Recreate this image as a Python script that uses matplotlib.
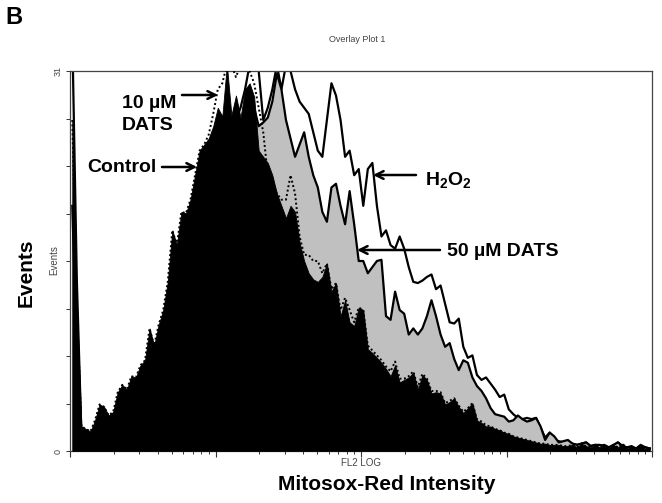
import numpy as np
import matplotlib
matplotlib.use("Agg")
import matplotlib.pyplot as plt
from matplotlib.ticker import FixedLocator, NullFormatter, LogLocator

plt.rcParams['font.family'] = ['Liberation Sans', 'DejaVu Sans']
plt.rcParams['mathtext.fontset'] = 'custom'
plt.rcParams['mathtext.rm'] = 'Liberation Sans:bold'
plt.rcParams['mathtext.bf'] = 'Liberation Sans:bold'

# ---- data: 128 histogram channels (of a 256-channel, 4-decade log scale) ----
channel = np.arange(128) * 2 + 1

control = [27, 12, 2.0, 1.8, 1.6, 2.5, 3.8, 3.6, 2.9, 3.2,
           4.8, 5.4, 5.0, 6.1, 6.0, 7.0, 7.4, 10.0, 8.6, 10.3,
           11.5, 13.8, 18.0, 16.8, 19.5, 19.4, 20.5, 22.5, 24.5, 25.0,
           25.5, 26.5, 28.0, 27.3, 31.5, 27.4, 29.0, 27.2, 29.5, 30.0,
           28.9, 24.5, 24.0, 23.5, 22.5, 21.0, 20.0, 19.0, 20.0, 19.5,
           17.0, 15.5, 14.5, 14.0, 13.8, 14.2, 15.3, 13.0, 13.7, 11.0,
           12.3, 10.5, 10.2, 11.7, 11.5, 8.3, 8.0, 7.6, 7.2, 6.7,
           6.1, 7.0, 5.6, 5.8, 6.0, 6.4, 5.0, 6.2, 5.8, 4.7,
           4.8, 4.7, 3.8, 4.0, 4.3, 3.6, 3.1, 3.5, 3.9, 2.5,
           2.3, 2.0, 2.0, 1.8, 1.7, 1.5, 1.4, 1.2, 1.1, 1.0,
           0.9, 0.8, 0.7, 0.6, 0.6, 0.5, 0.5, 0.5, 0.4, 0.4,
           0.5, 0.3, 0.6, 0.4, 0.3, 0.5, 0.3, 0.4, 0.2, 0.5,
           0.3, 0.6, 0.2, 0.3, 0.2, 0.4, 0.2, 0.3]

dats10 = [27, 12, 2.0, 1.8, 1.6, 2.5, 3.8, 3.6, 2.9, 3.2,
          4.8, 5.4, 5.0, 6.1, 6.0, 7.0, 7.4, 10.0, 8.6, 10.3,
          11.5, 13.8, 18.0, 16.8, 19.5, 19.4, 20.5, 22.5, 24.5, 25.0,
          25.8, 27.5, 29.5, 30.0, 31.5, 31.5, 30.5, 31.5, 31.5, 31.0,
          30.0, 28.0, 26.0, 22.5, 22.0, 21.0, 20.5, 20.5, 22.5, 21.0,
          17.5, 16.0, 16.0, 15.5, 15.5, 14.5, 15.3, 13.2, 13.7, 11.5,
          12.5, 11.5, 10.5, 11.7, 11.5, 8.6, 8.2, 7.8, 7.4, 6.9,
          6.5, 7.3, 5.9, 5.9, 6.1, 6.5, 5.2, 6.3, 5.9, 4.9,
          4.9, 4.8, 3.9, 4.1, 4.3, 3.7, 3.2, 3.5, 3.9, 2.6,
          2.4, 2.1, 2.0, 1.8, 1.7, 1.5, 1.4, 1.2, 1.1, 1.0,
          0.9, 0.8, 0.7, 0.6, 0.6, 0.5, 0.5, 0.5, 0.4, 0.4,
          0.5, 0.3, 0.6, 0.4, 0.3, 0.5, 0.3, 0.4, 0.2, 0.5,
          0.3, 0.6, 0.2, 0.3, 0.2, 0.4, 0.2, 0.3]

dats50 = [20, 8, 1.5, 1.3, 1.2, 1.8, 2.8, 2.6, 2.2, 2.5,
          3.6, 4.0, 3.9, 4.6, 4.7, 5.4, 5.8, 7.5, 6.8, 8.0,
          9.0, 10.5, 13.0, 13.0, 15.0, 15.5, 16.5, 18.0, 19.5, 20.5,
          21.5, 22.5, 23.5, 24.0, 25.0, 25.5, 26.5, 26.5, 27.5, 29.0,
          28.0, 26.5, 26.8, 27.2, 28.5, 30.8, 29.5, 27.0, 25.5, 24.0,
          25.0, 26.0, 24.0, 22.5, 21.5, 19.5, 18.7, 21.5, 21.8, 20.0,
          18.5, 21.2, 18.5, 15.5, 15.5, 14.5, 15.0, 15.5, 15.6, 11.0,
          10.7, 13.0, 11.5, 11.2, 9.5, 10.0, 9.5, 10.0, 11.0, 12.3,
          11.0, 9.5, 8.5, 8.8, 7.5, 6.6, 7.4, 7.2, 6.0, 5.3,
          4.9, 4.3, 3.5, 3.0, 2.9, 2.8, 2.4, 2.5, 2.9, 2.6,
          2.4, 2.5, 2.7, 2.0, 0.9, 1.5, 1.2, 0.7, 0.8, 0.9,
          0.6, 0.5, 0.6, 0.7, 0.4, 0.5, 0.5, 0.4, 0.3, 0.5,
          0.7, 0.4, 0.3, 0.3, 0.2, 0.4, 0.3, 0.2]

h2o2 = [34, 14, 1.5, 1.2, 1.1, 1.6, 2.4, 2.3, 2.0, 2.2,
        3.2, 3.6, 3.5, 4.2, 4.3, 4.9, 5.3, 6.8, 6.4, 7.5,
        8.5, 10.0, 12.0, 12.5, 14.0, 15.0, 16.0, 17.5, 19.0, 20.0,
        21.0, 22.0, 23.0, 24.0, 25.0, 26.0, 27.0, 28.0, 29.5, 31.5,
        31.5, 31.0, 27.0, 28.0, 29.5, 31.5, 29.5, 31.5, 31.0, 29.5,
        28.5, 28.0, 27.5, 26.0, 24.5, 24.0, 27.0, 30.0, 29.0, 27.0,
        24.0, 24.5, 22.5, 23.0, 20.0, 23.0, 23.5, 20.0, 17.5, 18.0,
        16.8, 16.5, 17.5, 16.5, 15.0, 13.8, 13.7, 13.9, 14.2, 14.4,
        13.2, 13.5, 12.0, 10.5, 10.4, 10.8, 8.5, 7.6, 7.8, 6.2,
        5.8, 6.0, 5.5, 5.0, 4.4, 4.6, 3.4, 3.0, 2.7, 2.6,
        2.7, 2.6, 2.7, 1.9, 1.1, 1.5, 0.9, 0.8, 0.7, 0.8,
        0.6, 0.5, 0.6, 0.7, 0.4, 0.5, 0.4, 0.5, 0.3, 0.4,
        0.7, 0.4, 0.3, 0.4, 0.2, 0.5, 0.3, 0.2]

y_ticks = [0, 3.875, 7.75, 11.625, 15.5, 19.375, 23.25, 27.125, 31]
y_ticklabels = ['0', '', '', '', '', '', '', '', '31']

# FL2 LOG scale: 256 channels over 4 decades
intensity = 10 ** (channel / 64.0)

fig = plt.figure(figsize=(6.62, 5.03), dpi=100)
ax = fig.add_axes([70 / 662, 52 / 503, 582 / 662, 380 / 503])

ax.plot(intensity, h2o2, color='black', lw=1.6, zorder=2)
ax.fill_between(intensity, 0, dats50, color='#c0c0c0', lw=0, zorder=3)
ax.plot(intensity, dats50, color='black', lw=1.6, zorder=3)
ax.fill_between(intensity, 0, control, color='black', lw=0.6, edgecolor='black', zorder=4)
ax.plot(intensity, dats10, color='black', lw=1.4, ls=(0, (1, 1.3)), zorder=5)

ax.set_xscale('log')
ax.set_xlim(1, 1e4)
ax.set_ylim(0, 31)

ax.xaxis.set_major_locator(LogLocator(base=10, numticks=10))
ax.xaxis.set_minor_locator(LogLocator(base=10, subs=np.arange(2, 10), numticks=10))
ax.xaxis.set_major_formatter(NullFormatter())
ax.xaxis.set_minor_formatter(NullFormatter())
ax.tick_params(axis='x', which='major', length=4, width=0.8, color='#333333', direction='out')
ax.tick_params(axis='x', which='minor', length=2.5, width=0.7, color='#333333', direction='out')

ax.yaxis.set_major_locator(FixedLocator(y_ticks))
ax.set_yticklabels(y_ticklabels, rotation=90, va='center', fontsize=6.5, color='#444444')
ax.tick_params(axis='y', length=3, width=0.7, color='#333333', pad=2)

for s in ax.spines.values():
    s.set_color('#444444')
    s.set_linewidth(0.9)

# titles / labels
fig.text(14 / 662, 1 - 18 / 503, 'B', fontsize=17, fontweight='bold', ha='center', va='center')
fig.text(357 / 662, 1 - 40 / 503, 'Overlay Plot 1', fontsize=6.5, color='#444444', ha='center', va='center')
fig.text(361 / 662, 1 - 463 / 503, 'FL2 LOG', fontsize=7, color='#444444', ha='center', va='center')
fig.text(387 / 662, 1 - 484 / 503, 'Mitosox-Red Intensity', fontsize=15, fontweight='bold',
         ha='center', va='center')
fig.text(26 / 662, 1 - 273 / 503, 'Events', fontsize=15, fontweight='bold', rotation=90,
         ha='center', va='center')
fig.text(54 / 662, 1 - 260 / 503, 'Events', fontsize=7, color='#444444', rotation=90,
         ha='center', va='center')

# annotations (arrows drawn in axes-fraction coords of figure pixels)
def fx(px):
    return px / 662

def fy(py):
    return 1 - py / 503

arrow = dict(arrowstyle='->', lw=1.8, color='black', mutation_scale=14, shrinkA=0, shrinkB=0)
fs = 14
ax.annotate('', xy=(fx(218), fy(95)), xytext=(fx(182), fy(95)), xycoords='figure fraction',
            textcoords='figure fraction', arrowprops=arrow)
fig.text(fx(122), fy(104), '10 \u00b5M', fontsize=fs, fontweight='bold', ha='left', va='center')
fig.text(fx(122), fy(126), 'DATS', fontsize=fs, fontweight='bold', ha='left', va='center')

ax.annotate('', xy=(fx(197), fy(167)), xytext=(fx(162), fy(167)), xycoords='figure fraction',
            textcoords='figure fraction', arrowprops=arrow)
fig.text(fx(122), fy(168), 'Control', fontsize=fs, fontweight='bold', ha='center', va='center')

ax.annotate('', xy=(fx(373), fy(175)), xytext=(fx(416), fy(175)), xycoords='figure fraction',
            textcoords='figure fraction', arrowprops=arrow)
fig.text(fx(425), fy(181), r'H$_2$O$_2$', fontsize=fs, fontweight='bold', ha='left', va='center')

ax.annotate('', xy=(fx(357), fy(250)), xytext=(fx(440), fy(250)), xycoords='figure fraction',
            textcoords='figure fraction', arrowprops=arrow)
fig.text(fx(447), fy(251), '50 \u00b5M DATS', fontsize=fs, fontweight='bold', ha='left', va='center')

fig.savefig('out.png', dpi=100)
